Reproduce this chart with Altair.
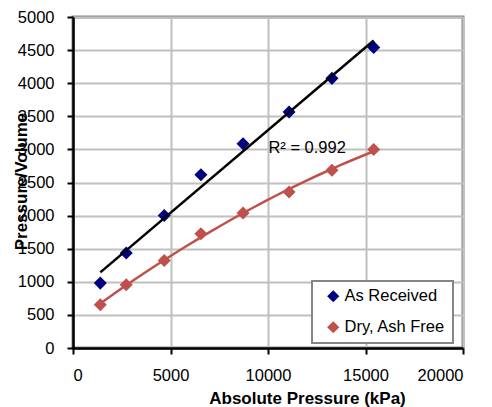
import altair as alt
import pandas as pd

pressure = [1400, 2730, 4680, 6560, 8720, 11080, 13280, 15420]
as_received = [980, 1435, 2003, 2618, 3086, 3565, 4073, 4541]
dry_ash_free = [654, 956, 1323, 1726, 2039, 2356, 2685, 3000]
series = ["As Received", "Dry, Ash Free"]
colors = ["#000080", "#C0504D"]
x_ticks = [0, 5000, 10000, 15000, 20000]
y_ticks = [0, 500, 1000, 1500, 2000, 2500, 3000, 3500, 4000, 4500, 5000]
r2_text = ["R² = 0.992"]
r2_pos_x = [10020]
r2_pos_y = [2950]

df = pd.DataFrame({
    "pressure": pressure + pressure,
    "pv": as_received + dry_ash_free,
    "series": [series[0]] * len(pressure) + [series[1]] * len(pressure),
})
df_text = pd.DataFrame({"pressure": r2_pos_x, "pv": r2_pos_y, "label": r2_text})

FONT = "Liberation Sans"
xscale = alt.Scale(domain=[0, 20000], nice=False, zero=True)
yscale = alt.Scale(domain=[0, 5000], nice=False, zero=True)

x_axis = alt.Axis(values=x_ticks, title="Absolute Pressure (kPa)", format="d",
                  titleX=234, titleY=55, titleAlign="center", titleBaseline="alphabetic",
                  labelPadding=13)
y_axis = alt.Axis(values=y_ticks, title="Pressure/Volume", format="d",
                  titleX=-47, titleY=164, titleAngle=270, titleAlign="center",
                  titleBaseline="alphabetic", labelPadding=13)

base = alt.Chart(df).encode(
    x=alt.X("pressure:Q", scale=xscale, axis=x_axis),
    y=alt.Y("pv:Q", scale=yscale, axis=y_axis),
)

points = base.mark_point(shape="diamond", filled=True, size=170, opacity=1).encode(
    color=alt.Color("series:N", scale=alt.Scale(domain=series, range=colors),
                    legend=alt.Legend(title=None, orient="none", legendX=239, legendY=264,
                                      fillColor="white", strokeColor="#868686",
                                      padding=7, symbolOffset=6, labelOffset=3,
                                      rowPadding=14, symbolType="diamond", symbolSize=150,
                                      labelFont=FONT, labelFontSize=16.5, labelColor="black"))
)

line_ar = base.transform_filter(alt.datum.series == series[0]).transform_regression(
    "pressure", "pv"
).mark_line(color="black", strokeWidth=2.5)

line_daf = base.transform_filter(alt.datum.series == series[1]).transform_regression(
    "pressure", "pv", method="poly", order=2
).mark_line(color="#C0504D", strokeWidth=2.5)

text = alt.Chart(df_text).mark_text(align="left", baseline="alphabetic", font=FONT,
                                    fontSize=16.5, color="black").encode(
    x=alt.X("pressure:Q", scale=xscale, axis=x_axis),
    y=alt.Y("pv:Q", scale=yscale, axis=y_axis),
    text="label:N",
)

chart = alt.layer(points, line_ar, line_daf, text).properties(
    width=390, height=331,
    autosize=alt.AutoSizeParams(type="none"),
    padding={"left": 65, "top": 9, "right": 21, "bottom": 59},
).configure_view(
    stroke="#868686", strokeWidth=3
).configure_axis(
    domainColor="black", domainWidth=2.5, tickColor="black", tickWidth=2, tickSize=6,
    gridColor="#c0c0c0", gridWidth=2, labelFont=FONT, labelFontSize=16.5, labelColor="black",
    titleFont=FONT, titleFontSize=17, titleFontWeight="bold", titleColor="black",
).configure_legend(strokeWidth=2)

chart.save("out.html", embed_options={"renderer": "svg", "actions": False})
